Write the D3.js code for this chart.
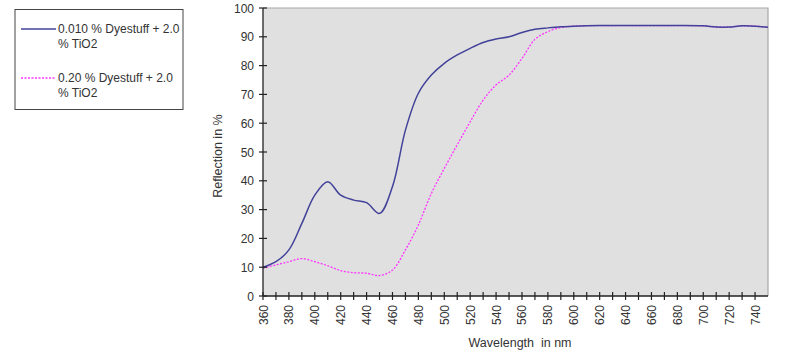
<!DOCTYPE html>
<html><head><meta charset="utf-8">
<script src="https://cdn.jsdelivr.net/npm/d3@7"></script>
<style>body{margin:0;background:#fff}svg{display:block}text{font-family:"Liberation Sans",Arial,sans-serif;white-space:pre}</style>
</head><body><svg id="c" width="800" height="355"></svg>
<script>
const wavelengths = [360,370,380,390,400,410,420,430,440,450,460,470,480,490,500,510,520,530,540,550,560,570,580,590,600,620,640,660,680,700,710,720,730,740,750];
const series1 = [10.0,11.9,16.0,25.2,35.0,39.7,35.0,33.3,32.4,28.7,38.0,57.6,70.4,76.7,80.8,83.7,86.0,88.0,89.2,90.0,91.5,92.6,93.1,93.5,93.7,93.9,93.9,93.9,93.9,93.8,93.4,93.4,93.8,93.7,93.3];
const series2 = [9.7,10.8,11.9,13.0,11.9,10.5,8.8,8.1,7.9,7.1,9.0,16.0,24.7,35.6,44.3,52.5,60.5,68.0,73.3,76.7,82.5,89.1,91.8,93.2,93.7,93.9,93.9,93.9,93.9,93.8,93.4,93.4,93.8,93.7,93.3];
const seriesNames = ["0.010 % Dyestuff + 2.0|% TiO2","0.20 % Dyestuff + 2.0|% TiO2"];
const xTicks = d3.range(360, 741, 10);
const xLabels = d3.range(360, 741, 20);
const yTicks = d3.range(0, 101, 10);

const svg = d3.select("#c");
const L=263,R=768,T=8,B=296;
const x = d3.scaleLinear().domain([360,750]).range([L,R]);
const y = d3.scaleLinear().domain([0,100]).range([B,T]);

svg.append("rect").attr("x",L).attr("y",T).attr("width",R-L).attr("height",B-T).attr("fill","#e0e0e0");
svg.append("path").attr("d",`M${L},${T}H${R}V${B}`).attr("fill","none").attr("stroke","#a8a8a8").attr("stroke-width",1.2);

svg.append("clipPath").attr("id","clip").append("rect").attr("x",L).attr("y",T).attr("width",R-L).attr("height",B-T);

const line = d3.line().x((d,i)=>x(wavelengths[i])).y(d=>y(d)).curve(d3.curveCatmullRom.alpha(0.5));
const g = svg.append("g").attr("clip-path","url(#clip)");
g.append("path").datum(series2).attr("d",line).attr("fill","none").attr("stroke","#ff33ff").attr("stroke-width",1.3).attr("stroke-dasharray","2,1.5");
g.append("path").datum(series1).attr("d",line).attr("fill","none").attr("stroke","#42429a").attr("stroke-width",1.5);

// y axis
const ya = svg.append("g");
ya.append("line").attr("x1",L).attr("x2",L).attr("y1",T).attr("y2",B).attr("stroke","#222").attr("stroke-width",1.3);
ya.selectAll(".yt").data(yTicks).enter().append("line").attr("x1",L-4).attr("x2",L+4).attr("y1",d=>y(d)).attr("y2",d=>y(d)).attr("stroke","#222").attr("stroke-width",1.2);
ya.selectAll(".yl").data(yTicks).enter().append("text").attr("x",L-9).attr("y",d=>y(d)+4.5).attr("text-anchor","end").attr("font-size",12).attr("fill","#333").text(d=>d);

// x axis
const xa = svg.append("g");
xa.append("line").attr("x1",L).attr("x2",R).attr("y1",B).attr("y2",B).attr("stroke","#222").attr("stroke-width",1.3);
xa.selectAll(".xt").data(xTicks).enter().append("line").attr("x1",d=>x(d)).attr("x2",d=>x(d)).attr("y1",B-4).attr("y2",B+4).attr("stroke","#222").attr("stroke-width",1.2);
xa.selectAll(".xl").data(xLabels).enter().append("text")
  .attr("transform",d=>`translate(${x(d)+4.5},305) rotate(-90)`)
  .attr("text-anchor","end").attr("font-size",12).attr("fill","#333").text(d=>d);

svg.append("text").attr("transform",`translate(222,156) rotate(-90)`).attr("text-anchor","middle").attr("font-size",12.5).attr("fill","#333").text("Reflection in %");
svg.append("text").attr("x",520).attr("y",347).attr("text-anchor","middle").attr("font-size",12.5).attr("fill","#333").text("Wavelength  in nm");

// legend
const lg = svg.append("g");
lg.append("rect").attr("x",15).attr("y",9.5).attr("width",168).attr("height",100).attr("fill","#fff").attr("stroke","#444").attr("stroke-width",1);
const styles=[{c:"#42429a",d:null,y:29},{c:"#ff33ff",d:"2,1.5",y:78}];
seriesNames.forEach((n,i)=>{
  const s=styles[i];
  lg.append("line").attr("x1",21).attr("x2",56).attr("y1",s.y).attr("y2",s.y).attr("stroke",s.c).attr("stroke-width",1.3).attr("stroke-dasharray",s.d);
  const parts=n.split("|");
  lg.append("text").attr("x",58).attr("y",s.y+4).attr("font-size",12).attr("fill","#333").text(parts[0]);
  lg.append("text").attr("x",58).attr("y",s.y+19).attr("font-size",12).attr("fill","#333").text(parts[1]);
});
</script></body></html>
